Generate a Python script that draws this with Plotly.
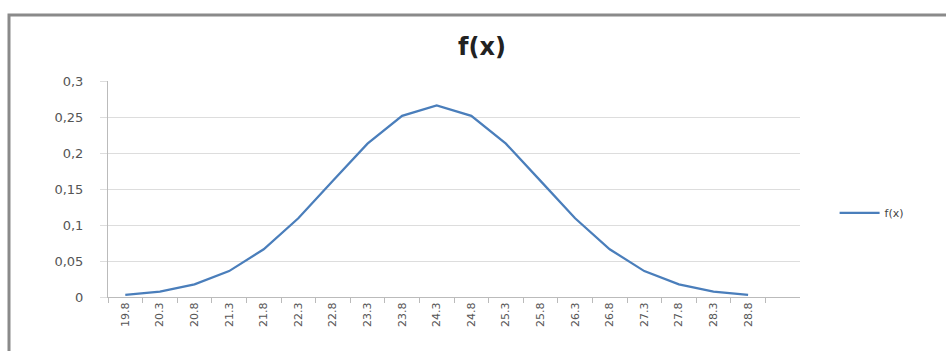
import plotly.graph_objects as go

categories = ["19.8", "20.3", "20.8", "21.3", "21.8", "22.3", "22.8", "23.3", "23.8", "24.3",
              "24.8", "25.3", "25.8", "26.3", "26.8", "27.3", "27.8", "28.3", "28.8"]
fx_values = [0.003, 0.0076, 0.0175, 0.036, 0.0663, 0.1093, 0.1613, 0.213, 0.2516, 0.266,
             0.2516, 0.213, 0.1613, 0.1093, 0.0663, 0.036, 0.0175, 0.0076, 0.003]
y_ticks = [0, 0.05, 0.1, 0.15, 0.2, 0.25, 0.3]
y_tick_labels = ["0", "0,05", "0,1", "0,15", "0,2", "0,25", "0,3"]

fig = go.Figure()
fig.add_trace(go.Scatter(
    x=categories, y=fx_values, mode="lines", name="f(x)",
    line=dict(color="#4A7EBB", width=2.25),
))

fig.update_layout(
    width=946, height=351,
    margin=dict(l=108, r=146, t=81, b=54),
    paper_bgcolor="white", plot_bgcolor="white",
    font=dict(family="DejaVu Sans, Verdana, sans-serif", color="#555555"),
    title=dict(text="<b>f(x)</b>", x=482 / 946, xanchor="center", y=1 - 47 / 351, yanchor="middle",
               font=dict(size=24, color="#222222", family="DejaVu Sans, Verdana, sans-serif")),
    showlegend=True,
    legend=dict(x=1.05, xanchor="left", y=0.39, yanchor="middle",
                font=dict(size=11, color="#444444"), bgcolor="rgba(0,0,0,0)", itemwidth=40),
    xaxis=dict(
        type="category", range=[-0.5, 19.5], tickangle=-90,
        tickfont=dict(size=11, color="#555555", family="DejaVu Sans, Verdana, sans-serif"),
        showgrid=False, showline=True, linecolor="#BBBBBB", linewidth=1,
        ticks="outside", ticklen=5, tickcolor="#BBBBBB", tickson="boundaries",
        zeroline=False, fixedrange=True,
    ),
    yaxis=dict(
        range=[0, 0.3], tickvals=y_ticks, ticktext=y_tick_labels,
        tickfont=dict(size=13, color="#555555", family="DejaVu Sans, Verdana, sans-serif"),
        showgrid=True, gridcolor="#DDDDDD", gridwidth=1,
        showline=True, linecolor="#BBBBBB", linewidth=1,
        ticks="outside", ticklen=7, tickcolor="#DDDDDD", ticklabelstandoff=14,
        zeroline=False, fixedrange=True,
    ),
)

# chart frame
fig.add_shape(type="rect", xref="paper", yref="paper",
              x0=(9 - 108) / 692, x1=1.5, y0=-0.6, y1=(297 - 15) / 216,
              line=dict(color="#8A8A8A", width=3), layer="below")

fig.write_html("out.html")
